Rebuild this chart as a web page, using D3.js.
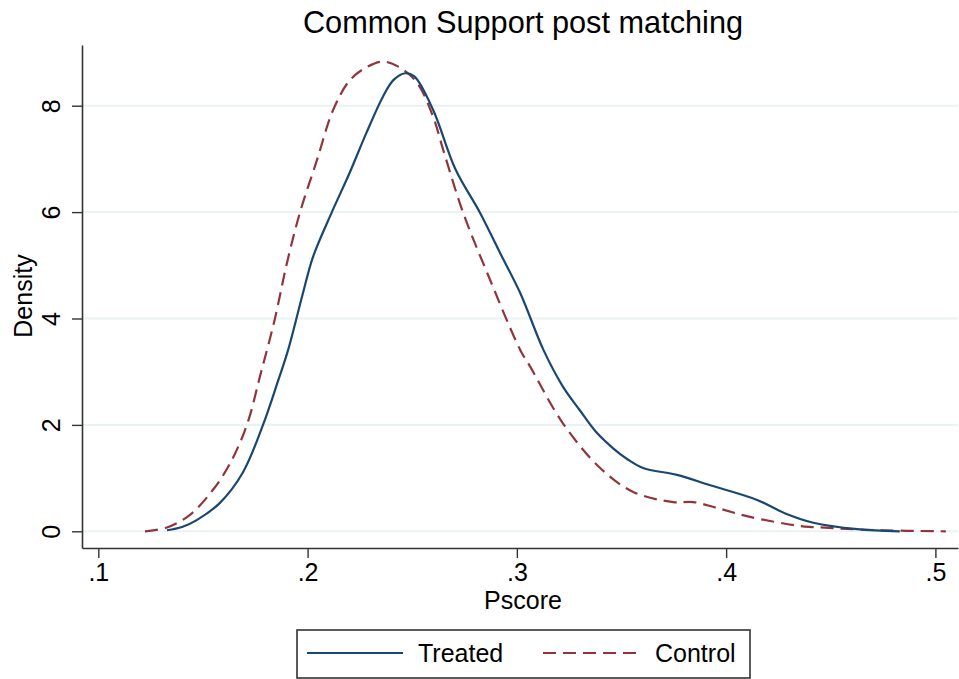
<!DOCTYPE html>
<html>
<head>
<meta charset="utf-8">
<script src="https://cdn.jsdelivr.net/npm/d3@7"></script>
<style>
  body { margin: 0; background: #fff; }
  svg { display: block; font-family: "Liberation Sans", Arial, sans-serif; }
</style>
</head>
<body>
<div id="chart"></div>
<script>
// kernel density: [pscore, density]
var treated = [
  [0.1328,0.02],[0.140,0.08],[0.147,0.21],[0.158,0.53],[0.169,1.1],[0.1787,2.0],
  [0.186,2.84],[0.1907,3.41],[0.1978,4.48],[0.2026,5.16],[0.2116,6.0],[0.220,6.73],
  [0.228,7.48],[0.236,8.17],[0.241,8.48],[0.2466,8.61],[0.251,8.55],[0.260,7.92],
  [0.2706,6.81],[0.2825,5.98],[0.292,5.23],[0.3016,4.48],[0.3127,3.41],[0.322,2.72],
  [0.330,2.28],[0.338,1.86],[0.346,1.56],[0.353,1.35],[0.3603,1.19],[0.3765,1.06],
  [0.392,0.87],[0.4148,0.59],[0.428,0.34],[0.4417,0.16],[0.4627,0.04],[0.483,0.0]
];
var control = [
  [0.1223,0.0],[0.1328,0.07],[0.1438,0.31],[0.1548,0.78],[0.163,1.28],[0.171,2.0],
  [0.1775,2.95],[0.1844,4.0],[0.190,5.02],[0.1964,6.0],[0.2045,6.98],
  [0.212,7.9],[0.220,8.47],[0.228,8.72],[0.236,8.83],[0.244,8.72],[0.2523,8.43],
  [0.260,7.79],[0.2648,7.17],[0.2744,5.98],[0.2858,4.86],[0.3016,3.41],[0.3063,3.1],
  [0.322,2.03],[0.3398,1.19],[0.3556,0.74],[0.3747,0.55],[0.3843,0.55],[0.3955,0.44],
  [0.4114,0.27],[0.4353,0.10],[0.4417,0.08],[0.4735,0.02],[0.505,0.0]
];
var seriesNames = ["Treated", "Control"];
var xTicks = [0.1, 0.2, 0.3, 0.4, 0.5];
var yTicks = [0, 2, 4, 6, 8];

var draw = function(){
    var width = 959, height = 679;
    var plotLeft = 82, plotRight = 958, plotTop = 45, plotBottom = 548;
    var navy = "#1a476f", maroon = "#90353b";
    var font = "Liberation Sans, Arial, sans-serif";

    var svg = d3.select("#chart").append("svg")
        .attr("width", width)
        .attr("height", height);

    var x = d3.scaleLinear().domain([0.0922, 0.5108]).range([plotLeft, plotRight]);
    var y = d3.scaleLinear().domain([-0.314, 9.141]).range([plotBottom, plotTop]);

    // grid
    svg.append("g").selectAll("line").data(yTicks).enter().append("line")
        .attr("x1", plotLeft).attr("x2", plotRight)
        .attr("y1", function(d){ return y(d); })
        .attr("y2", function(d){ return y(d); })
        .attr("stroke", "#eaf2f3")
        .attr("stroke-width", 2);

    var line = d3.line()
        .x(function(d){ return x(d[0]); })
        .y(function(d){ return y(d[1]); })
        .curve(d3.curveCatmullRom.alpha(0.5));

    svg.append("path").datum(control)
        .attr("d", line)
        .attr("fill", "none")
        .attr("stroke", maroon)
        .attr("stroke-width", 2.2)
        .attr("stroke-dasharray", "13,7");

    svg.append("path").datum(treated)
        .attr("d", line)
        .attr("fill", "none")
        .attr("stroke", navy)
        .attr("stroke-width", 2.2);

    // axes
    var xAxis = svg.append("g")
        .attr("transform", "translate(0," + plotBottom + ")")
        .call(d3.axisBottom(x).tickValues(xTicks).tickSize(10).tickSizeOuter(0)
            .tickFormat(function(d){ return d3.format(".1f")(d).replace(/^0/, ""); }));
    xAxis.select(".domain").attr("stroke", "#333").attr("stroke-width", 1.6);
    xAxis.selectAll(".tick line").attr("stroke", "#333").attr("stroke-width", 1.4);
    xAxis.selectAll(".tick text")
        .attr("y", 33).attr("dy", 0)
        .attr("font-size", 25).attr("fill", "#000")
        .attr("font-family", font);

    var yAxis = svg.append("g")
        .attr("transform", "translate(" + plotLeft + ",0)")
        .call(d3.axisLeft(y).tickValues(yTicks).tickSize(10).tickSizeOuter(0));
    yAxis.select(".domain").attr("stroke", "#333").attr("stroke-width", 1.6);
    yAxis.selectAll(".tick line").attr("stroke", "#333").attr("stroke-width", 1.4);
    yAxis.selectAll(".tick text")
        .attr("transform", "rotate(-90)")
        .attr("x", 0).attr("y", -22).attr("dy", 0)
        .attr("text-anchor", "middle")
        .attr("font-size", 25).attr("fill", "#000")
        .attr("font-family", font);

    // titles
    svg.append("text")
        .attr("x", 523).attr("y", 33)
        .attr("text-anchor", "middle")
        .attr("font-size", 30.7)
        .text("Common Support post matching");

    svg.append("text")
        .attr("x", 523).attr("y", 609)
        .attr("text-anchor", "middle")
        .attr("font-size", 25)
        .text("Pscore");

    svg.append("text")
        .attr("transform", "translate(32,296) rotate(-90)")
        .attr("text-anchor", "middle")
        .attr("font-size", 25)
        .text("Density");

    // legend
    var legend = svg.append("g");
    legend.append("rect")
        .attr("x", 297).attr("y", 630)
        .attr("width", 453).attr("height", 48)
        .attr("fill", "#fff")
        .attr("stroke", "#333")
        .attr("stroke-width", 1.6);

    var items = legend.selectAll("g.item").data(seriesNames).enter().append("g")
        .attr("class", "item")
        .attr("transform", function(d, i){ return "translate(" + (i == 0 ? 307 : 543) + ",653)"; });
    items.append("line")
        .attr("x1", 0).attr("x2", 96)
        .attr("stroke", function(d, i){ return i == 0 ? navy : maroon; })
        .attr("stroke-width", 2.2)
        .attr("stroke-dasharray", function(d, i){ return i == 0 ? null : "13,7"; });
    items.append("text")
        .attr("x", function(d, i){ return i == 0 ? 111 : 112; })
        .attr("y", 9)
        .attr("font-size", 25)
        .text(function(d){ return d; });
}

draw();
</script>
</body>
</html>
